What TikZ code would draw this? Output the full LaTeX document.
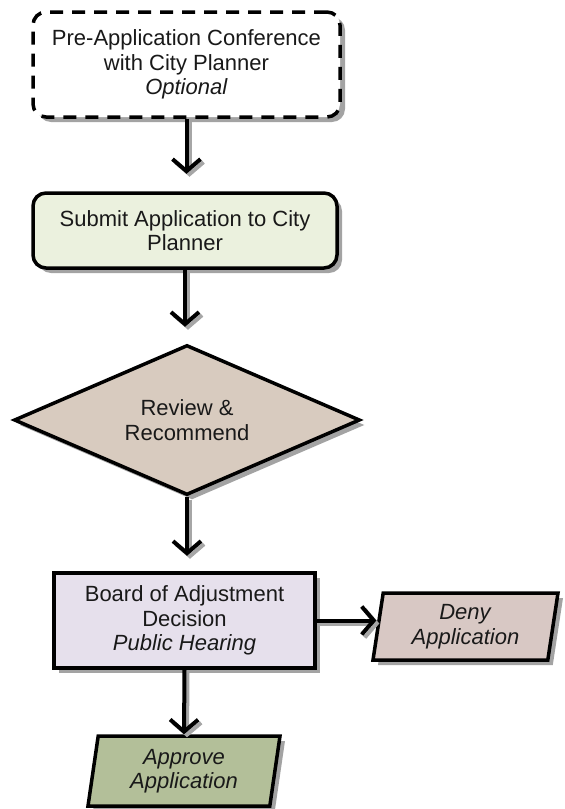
\documentclass[tikz,border=0pt]{standalone}
\usepackage{fontspec}
\setmainfont{Liberation Sans}
\usetikzlibrary{shapes.geometric,shadows,arrows.meta}

\definecolor{submitgreen}{HTML}{EBF1DE}
\definecolor{reviewtan}{HTML}{D8CBBF}
\definecolor{boardlilac}{HTML}{E6E0EC}
\definecolor{denyrose}{HTML}{D8C8C4}
\definecolor{approveolive}{HTML}{B3BF99}

\tikzset{
  flowshadow/.style={drop shadow={shadow xshift=5pt,shadow yshift=-5pt,fill=black!45,opacity=.8}},
  flowtext/.style={font=\fontsize{22}{24.5}\selectfont,align=center,text=black!90},
  stepbox/.style={flowtext,draw,line width=3.5pt,rounded corners=13pt,flowshadow},
  pgram/.style={flowtext,draw,line width=3.5pt,trapezium,trapezium left angle=77,
    trapezium right angle=103,trapezium stretches body,inner sep=0pt,flowshadow},
  flowarrow/.style={line width=4pt,-{Straight Barb[length=12pt,width=28pt]},
    preaction={draw=black!35,line width=4pt,-{Straight Barb[length=12pt,width=28pt]},
      transform canvas={shift={(3pt,-3pt)}}}}
}

\begin{document}
\begin{tikzpicture}[x=1pt,y=-1pt]
  \useasboundingbox (0,0) rectangle (565,809);

  % boxes of the flow
  \node[stepbox,dashed,dash pattern=on 13pt off 9pt,fill=white,
    minimum width=307pt,minimum height=105pt] (preapp) at (186.5,64.5)
    {Pre-Application Conference\\with City Planner\\\textit{Optional}};
  \node[stepbox,fill=submitgreen,minimum width=304pt,minimum height=75pt]
    (submit) at (185,230.5) {Submit Application to City\\Planner};
  \node[flowtext,draw,line width=3.5pt,diamond,shape aspect=2.3,fill=reviewtan,
    inner sep=0pt,minimum width=346pt,minimum height=150pt,flowshadow]
    (review) at (187,420) {Review \&\\Recommend};
  \node[flowtext,draw,line width=3.5pt,fill=boardlilac,minimum width=261pt,
    minimum height=95pt,flowshadow] (board) at (184.5,620.5)
    {Board of Adjustment\\Decision\\\textit{Public Hearing}};
  \node[pgram,fill=denyrose,minimum width=185pt,minimum height=67pt]
    (deny) at (465.5,626.5) {\textit{Deny}\\\textit{Application}};
  \node[pgram,fill=approveolive,minimum width=192pt,minimum height=70pt]
    (approve) at (184,771) {\textit{Approve}\\\textit{Application}};

  % connectors
  \draw[flowarrow] (preapp.south) -- ++(0,55);
  \draw[flowarrow] (submit.south) -- ++(0,57);
  \draw[flowarrow] (review.south) -- ++(0,59);
  \draw[flowarrow] (board.east) -- (board.east -| deny.west);
  \draw[flowarrow] (board.south) -- (approve.north);
\end{tikzpicture}
\end{document}
